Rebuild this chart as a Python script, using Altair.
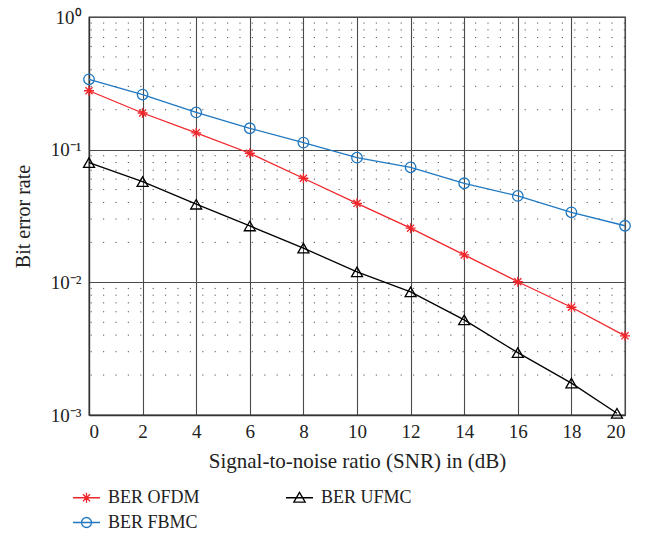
import altair as alt
import pandas as pd

# Bit error rate against SNR for three multicarrier waveforms
snr = [0, 2, 4, 6, 8, 10, 12, 14, 16, 18, 20]
ber_ofdm = [0.278, 0.189, 0.134, 0.094, 0.0609, 0.0394, 0.0256, 0.0161, 0.0101, 0.00649, 0.00395]
ber_fbmc = [0.339, 0.260, 0.191, 0.145, 0.113, 0.087, 0.0736, 0.0558, 0.0448, 0.0337, 0.0267]
snr_ufmc = [0, 2, 4, 6, 8, 10, 12, 14, 16, 18, 19.7]
ber_ufmc = [0.0798, 0.0574, 0.0388, 0.0266, 0.0181, 0.0120, 0.00847, 0.00521, 0.00295, 0.00174, 0.00103]

series_names = ["BER OFDM", "BER FBMC", "BER UFMC"]
series_colors = ["#f0262b", "#1f78c1", "#000000"]

x_ticks = [0, 2, 4, 6, 8, 10, 12, 14, 16, 18, 20]
y_ticks = [1e-3, 1e-2, 1e-1, 1]
y_tick_labels = ["10⁻³", "10⁻²", "10⁻¹", "10⁰"]
minor_levels = [m * 10.0 ** e for e in (-3, -2, -1) for m in range(2, 10)]

# plot markers (unit-square symbol paths / built-in shapes)
marker_shapes = [
    "M0,-1V1M-1,0H1M-0.71,-0.71L0.71,0.71M-0.71,0.71L0.71,-0.71",
    "circle",
    "triangle-up",
]
marker_sizes = [100, 121, 140]

# legend glyphs: a short line segment with the marker on it
legend_glyphs = [
    "M-1,0H1M0,-0.37V0.37M-0.37,0H0.37M-0.26,-0.26L0.26,0.26M-0.26,0.26L0.26,-0.26",
    "M-1,0H1M-0.37,0A0.37,0.37 0 1,1 0.37,0A0.37,0.37 0 1,1 -0.37,0Z",
    "M-1,0H1M0,-0.4L0.42,0.32L-0.42,0.32Z",
]

rows = []
for name, xs, ys in [
    ("BER OFDM", snr, ber_ofdm),
    ("BER FBMC", snr, ber_fbmc),
    ("BER UFMC", snr_ufmc, ber_ufmc),
]:
    for xv, yv in zip(xs, ys):
        rows.append({"snr": xv, "ber": yv, "series": name, "curve": name})
df = pd.DataFrame(rows)
minor_df = pd.DataFrame({"ber": minor_levels})

FONT = "Liberation Serif"

label_expr = " : ".join(
    f"datum.value < {v * 5:g} ? '{lab}'" for v, lab in zip(y_ticks[:-1], y_tick_labels[:-1])
) + f" : '{y_tick_labels[-1]}'"

x_enc = alt.X(
    "snr:Q",
    scale=alt.Scale(domain=[0, 20], nice=False, zero=False),
    axis=alt.Axis(values=x_ticks, title="Signal-to-noise ratio (SNR) in (dB)",
                  grid=True, labelPadding=7, titlePadding=9, titleFontSize=21),
)
y_axis = alt.Axis(values=y_ticks, labelExpr=label_expr, title="Bit error rate",
                  grid=True, labelPadding=8, titlePadding=17, titleFontSize=20)
y_scale = alt.Scale(type="log", domain=[1e-3, 1], nice=False)
y_enc = alt.Y("ber:Q", scale=y_scale, axis=y_axis)

curve_color = alt.Color("curve:N", scale=alt.Scale(domain=series_names, range=series_colors), legend=None)

minor_grid = alt.Chart(minor_df).mark_rule(
    color="#555", strokeWidth=1, strokeDash=[1.2, 11.2]
).encode(y=y_enc)

lines = alt.Chart(df).mark_line(strokeWidth=1.3).encode(
    x=x_enc, y=y_enc, color=curve_color, detail="curve:N"
)

markers = alt.Chart(df).mark_point(filled=False, strokeWidth=1.3, opacity=1).encode(
    x=x_enc, y=y_enc, color=curve_color,
    shape=alt.Shape("curve:N", scale=alt.Scale(domain=series_names, range=marker_shapes), legend=None),
    size=alt.Size("curve:N", scale=alt.Scale(domain=series_names, range=marker_sizes), legend=None),
)

legend = alt.Legend(
    title=None, orient="none", legendX=-17, legendY=466, columns=2, direction="vertical",
    symbolSize=729, symbolStrokeWidth=1.3, symbolOpacity=1, symbolFillColor="transparent",
    labelFont=FONT, labelFontSize=18, labelColor="#222", labelOffset=7,
    columnPadding=83, rowPadding=1, padding=0,
)
legend_layer = alt.Chart(df).mark_point(filled=False, opacity=0).encode(
    x=x_enc, y=y_enc,
    color=alt.Color("series:N", scale=alt.Scale(domain=series_names, range=series_colors), legend=legend),
    shape=alt.Shape("series:N", scale=alt.Scale(domain=series_names, range=legend_glyphs), legend=legend),
)

chart = (
    alt.layer(minor_grid, lines, markers, legend_layer)
    .resolve_scale(color="independent", shape="independent")
    .properties(
        width=536, height=398,
        autosize=alt.AutoSizeParams(type="none"),
        padding={"left": 89, "top": 17, "right": 25, "bottom": 131},
        background="white",
    )
    .configure_view(stroke="#333", strokeWidth=1.3)
    .configure_axis(
        labelFont=FONT, labelFontSize=19, labelColor="#222",
        titleFont=FONT, titleFontWeight="normal", titleColor="#222",
        gridColor="#4a4a4a", gridWidth=1.1, gridOpacity=1,
        domainColor="#333", domainWidth=1.3, ticks=False,
    )
)

chart.save("out.html", embed_options={"renderer": "svg", "actions": False})
